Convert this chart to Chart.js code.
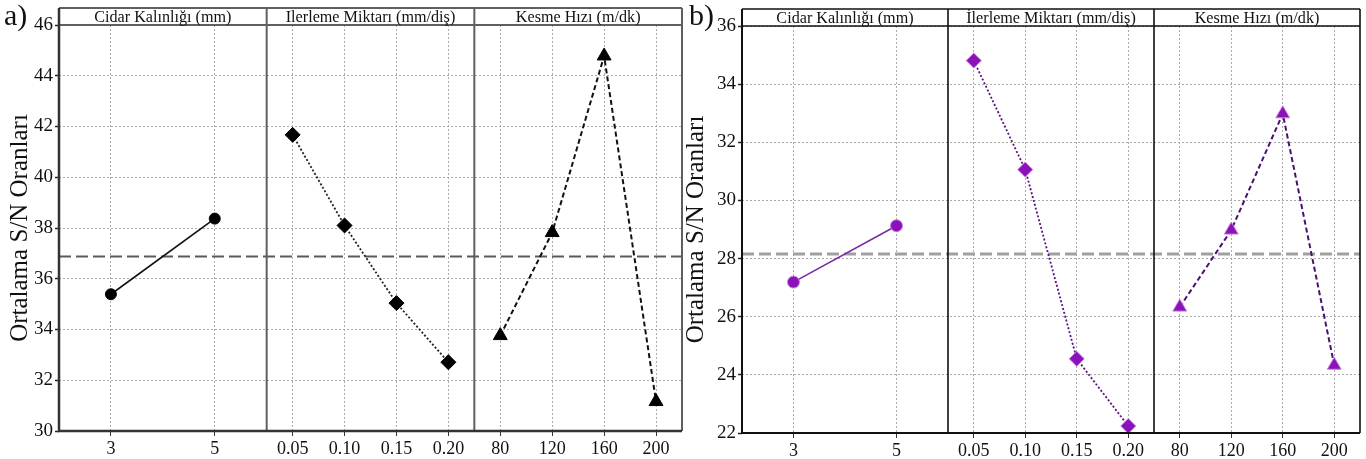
<!DOCTYPE html>
<html lang="tr">
<head>
<meta charset="utf-8">
<title>Ortalama S/N Oranları</title>
<script src="https://cdn.jsdelivr.net/npm/chart.js@4.4.1/dist/chart.umd.min.js"></script>
<style>
    html, body { margin: 0; padding: 0; background: #fff; overflow: hidden; }
    .panel { position: absolute; top: 0; width: 683px; height: 459px; }
    #panelA { left: 0; }
    #panelB { left: 683px; }
</style>
</head>
<body>
<div class="panel" id="panelA"><canvas id="grafikA" width="683" height="459"></canvas></div>
<div class="panel" id="panelB"><canvas id="grafikB" width="683" height="459"></canvas></div>
<script>
"use strict";

// faktörler ve seviyeleri
const basliklarA = ["Cidar Kalınlığı (mm)", "Ilerleme Miktarı (mm/diş)", "Kesme Hızı (m/dk)"];
const basliklarB = ["Cidar Kalınlığı (mm)", "İlerleme Miktarı (mm/diş)", "Kesme Hızı (m/dk)"];
const cidarSeviyeleri = ["3", "5"];
const ilerlemeSeviyeleri = ["0.05", "0.10", "0.15", "0.20"];
const kesmeSeviyeleri = ["80", "120", "160", "200"];

// a) ortalama S/N oranları
const cidarA = [35.39, 38.37];
const ilerlemeA = [41.67, 38.10, 35.04, 32.71];
const kesmeA = [33.76, 37.82, 44.78, 31.16];

// b) ortalama S/N oranları
const cidarB = [27.19, 29.13];
const ilerlemeB = [34.81, 31.06, 24.55, 22.24];
const kesmeB = [26.33, 28.98, 32.98, 24.33];

// y ekseni etiketleri
const yEtiketleriA = [30, 32, 34, 36, 38, 40, 42, 44, 46];
const yEtiketleriB = [22, 24, 26, 28, 30, 32, 34, 36];

// her faktör x ekseninde 4 birimlik bir bölme kaplıyor
const BOLME = 4;
const seviyeler = [cidarSeviyeleri, ilerlemeSeviyeleri, kesmeSeviyeleri];

function xKonum(faktor, sira, adet) {
    return faktor * BOLME + ((sira + 0.5) * BOLME) / adet;
}

function noktalar(faktor, degerler) {
    return degerler.map((y, i) => ({ x: xKonum(faktor, i, degerler.length), y: y }));
}

const xTikleri = [];
seviyeler.forEach((liste, f) => {
    liste.forEach((etiket, i) => xTikleri.push({ value: xKonum(f, i, liste.length), etiket: etiket }));
});

const ortalama = (dizi) => dizi.reduce((a, b) => a + b, 0) / dizi.length;

// başlık şeridi, bölme çizgileri ve panel harfi
const cercevePlugin = {
    id: "cerceve",
    afterDraw(chart, args, opts) {
        const { ctx, chartArea } = chart;
        const { left, right, top, bottom } = chartArea;
        const xScale = chart.scales.x;
        const ust = top - opts.baslikYukseklik;

        ctx.save();
        ctx.strokeStyle = opts.renk;
        ctx.lineWidth = opts.kalinlik;
        ctx.beginPath();
        ctx.moveTo(left, ust);
        ctx.lineTo(right, ust);
        ctx.moveTo(left, top);
        ctx.lineTo(right, top);
        for (let f = 1; f <= 3; f++) {
            const x = xScale.getPixelForValue(f * BOLME);
            ctx.moveTo(x, ust);
            ctx.lineTo(x, bottom);
        }
        ctx.stroke();

        ctx.strokeStyle = opts.eksenRenk;
        ctx.lineWidth = opts.eksenKalinlik;
        ctx.beginPath();
        ctx.moveTo(left, ust);
        ctx.lineTo(left, bottom);
        ctx.lineTo(right, bottom);
        ctx.stroke();

        // başlıklar biraz daraltılmış yazılıyor
        ctx.fillStyle = "#111";
        ctx.font = opts.baslikFont;
        ctx.textAlign = "center";
        ctx.textBaseline = "middle";
        opts.basliklar.forEach((b, f) => {
            const x = xScale.getPixelForValue(f * BOLME + BOLME / 2);
            ctx.save();
            ctx.translate(x, (ust + top) / 2 + 1);
            ctx.scale(opts.daraltma, 1);
            ctx.fillText(b, 0, 0);
            ctx.restore();
        });

        ctx.textAlign = "left";
        ctx.textBaseline = "alphabetic";
        ctx.font = opts.harfFont;
        ctx.fillText(opts.harf, opts.harfX, opts.harfY);
        ctx.restore();
    },
};

function grafikOlustur(canvasId, ayar) {
    const ort = ortalama(ayar.cidar);
    const datasets = [
        {
            data: noktalar(0, ayar.cidar),
            borderColor: ayar.cizgiRenkleri[0],
            borderWidth: 1.6,
            pointStyle: "circle",
            pointRadius: ayar.isaretBoyu[0],
        },
        {
            data: noktalar(1, ayar.ilerleme),
            borderColor: ayar.cizgiRenkleri[1],
            borderWidth: 1.8,
            borderDash: [2, 2],
            pointStyle: "rectRot",
            pointRadius: ayar.isaretBoyu[1],
        },
        {
            data: noktalar(2, ayar.kesme),
            borderColor: ayar.cizgiRenkleri[2],
            borderWidth: 2,
            borderDash: [5, 3],
            pointStyle: "triangle",
            pointRadius: ayar.isaretBoyu[2],
        },
        {
            // genel ortalama çizgisi
            data: [
                { x: 0, y: ort },
                { x: 3 * BOLME, y: ort },
            ],
            borderColor: ayar.ortalamaRenk,
            borderWidth: ayar.ortalamaKalinlik,
            borderDash: [12, 5],
            pointRadius: 0,
        },
    ];
    datasets.slice(0, 3).forEach((ds) => {
        ds.pointBackgroundColor = ayar.isaretRenk;
        ds.pointBorderColor = ayar.isaretKenar;
        ds.pointBorderWidth = 1;
        ds.clip = false;
    });

    return new Chart(document.getElementById(canvasId), {
        type: "line",
        data: { datasets: datasets },
        options: {
            responsive: false,
            animation: false,
            layout: {
                autoPadding: false,
                padding: { top: ayar.ust, right: ayar.sag, left: 0, bottom: 0 },
            },
            plugins: {
                legend: { display: false },
                tooltip: { enabled: false },
                cerceve: {
                    basliklar: ayar.basliklar,
                    baslikYukseklik: 17,
                    baslikFont: "17px 'Liberation Serif'",
                    daraltma: 0.95,
                    renk: ayar.cerceveRenk,
                    kalinlik: ayar.cerceveKalinlik,
                    eksenRenk: ayar.eksenRenk,
                    eksenKalinlik: ayar.eksenKalinlik,
                    harf: ayar.harf,
                    harfFont: "30px 'Liberation Serif'",
                    harfX: ayar.harfX,
                    harfY: 25,
                },
            },
            scales: {
                x: {
                    type: "linear",
                    min: 0,
                    max: 3 * BOLME,
                    afterBuildTicks: (scale) => {
                        scale.ticks = xTikleri.map((t) => ({ value: t.value }));
                    },
                    afterFit: (scale) => {
                        scale.height = ayar.alt;
                        scale.paddingLeft = 0;
                        scale.paddingRight = 0;
                    },
                    ticks: {
                        autoSkip: false,
                        maxRotation: 0,
                        padding: 2,
                        color: "#111",
                        font: { family: "Liberation Serif", size: 18 },
                        callback: (v, i) => xTikleri[i].etiket,
                    },
                    grid: { color: "#aaa", lineWidth: 1, tickLength: 5, tickColor: "#333", tickWidth: 1 },
                    border: { display: false, dash: [2, 2] },
                },
                y: {
                    type: "linear",
                    min: ayar.yEtiketleri[0],
                    max: ayar.yEtiketleri[ayar.yEtiketleri.length - 1],
                    afterBuildTicks: (scale) => {
                        scale.ticks = ayar.yEtiketleri.map((v) => ({ value: v }));
                    },
                    afterFit: (scale) => {
                        scale.width = 59;
                    },
                    ticks: {
                        padding: 2,
                        color: "#111",
                        font: { family: "Liberation Serif", size: 19 },
                    },
                    grid: { color: "#aaa", lineWidth: 1, tickLength: 4, tickColor: "#222", tickWidth: 1.5 },
                    border: { display: false, dash: [2, 2] },
                    title: {
                        display: true,
                        text: "Ortalama S/N Oranları",
                        color: "#111",
                        font: { family: "Liberation Serif", size: 25, lineHeight: 1 },
                        padding: { top: ayar.baslikBosluk, bottom: 0 },
                    },
                },
            },
        },
        plugins: [cercevePlugin],
    });
}

grafikOlustur("grafikA", {
    cidar: cidarA,
    ilerleme: ilerlemeA,
    kesme: kesmeA,
    yEtiketleri: yEtiketleriA,
    basliklar: basliklarA,
    ust: 25,
    alt: 28,
    sag: 1,
    cizgiRenkleri: ["#111", "#222", "#111"],
    isaretRenk: "#000",
    isaretKenar: "#000",
    isaretBoyu: [5.5, 7.5, 8],
    ortalamaRenk: "#5a5a5a",
    ortalamaKalinlik: 2,
    cerceveRenk: "#5f5f5f",
    cerceveKalinlik: 2,
    eksenRenk: "#333",
    eksenKalinlik: 2.5,
    harf: "a)",
    harfX: 4,
    baslikBosluk: 8,
});

grafikOlustur("grafikB", {
    cidar: cidarB,
    ilerleme: ilerlemeB,
    kesme: kesmeB,
    yEtiketleri: yEtiketleriB,
    basliklar: basliklarB,
    ust: 26,
    alt: 26,
    sag: 6,
    cizgiRenkleri: ["#7a2aa6", "#5b1080", "#4a0f70"],
    isaretRenk: "#8a12b8",
    isaretKenar: "#c77ee0",
    isaretBoyu: [6, 7.5, 8],
    ortalamaRenk: "#a0a0a0",
    ortalamaKalinlik: 3,
    cerceveRenk: "#111",
    cerceveKalinlik: 1.6,
    eksenRenk: "#111",
    eksenKalinlik: 2,
    harf: "b)",
    harfX: 6,
    baslikBosluk: 1,
});
</script>
</body>
</html>
